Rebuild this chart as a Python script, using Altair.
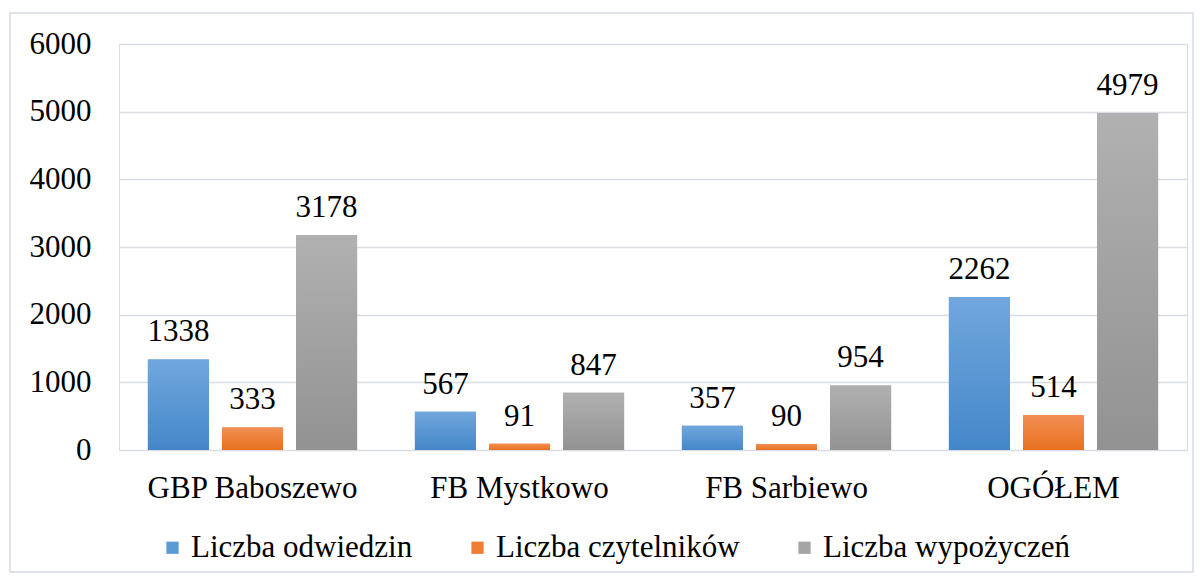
import altair as alt
import pandas as pd

categories = ["GBP Baboszewo", "FB Mystkowo", "FB Sarbiewo", "OGÓŁEM"]
series = ["Liczba odwiedzin", "Liczba czytelników", "Liczba wypożyczeń"]
odwiedzin = [1338, 567, 357, 2262]
czytelnikow = [333, 91, 90, 514]
wypozyczen = [3178, 847, 954, 4979]

flat_colors = ["#5b9bd5", "#ed7d31", "#a5a5a5"]
grad_top = ["#71a7dd", "#f28e53", "#b1b1b1"]
grad_bottom = ["#4487c9", "#e8711f", "#929292"]

rows = []
for s, vals in zip(series, [odwiedzin, czytelnikow, wypozyczen]):
    for c, v in zip(categories, vals):
        rows.append({"kategoria": c, "seria": s, "wartosc": v})
df = pd.DataFrame(rows)

FONT = "Liberation Serif, Times New Roman, serif"

x_enc = alt.X("kategoria:N", sort=categories,
              scale=alt.Scale(paddingInner=0, paddingOuter=0),
              axis=alt.Axis(title=None, labelAngle=0, labelFont=FONT, labelFontSize=31,
                            labelColor="#000000", ticks=False, domain=False,
                            labelPadding=23, labelLimit=400))
xoff_enc = alt.XOffset("seria:N", sort=series,
                       scale=alt.Scale(paddingInner=0.176, paddingOuter=0.39))
y_enc = alt.Y("wartosc:Q",
              scale=alt.Scale(domain=[0, 6000], nice=False),
              axis=alt.Axis(title=None, values=[0, 1000, 2000, 3000, 4000, 5000, 6000],
                            format="d",
                            labelFont=FONT, labelFontSize=31, labelColor="#000000",
                            ticks=False, domain=False, labelPadding=28,
                            gridColor="#d9dde3", gridWidth=1.6))

base = alt.Chart(df)

legend_bars = base.mark_bar().encode(
    x=x_enc, xOffset=xoff_enc, y=y_enc,
    color=alt.Color("seria:N", sort=series,
                    scale=alt.Scale(domain=series, range=flat_colors),
                    legend=alt.Legend(title=None, orient="none", direction="horizontal",
                                      legendX=38, legendY=488,
                                      labelFont=FONT, labelFontSize=31, labelColor="#000000",
                                      symbolType="square", symbolSize=150,
                                      symbolStrokeWidth=0, labelOffset=3,
                                      columnPadding=49, labelLimit=400)),
)

layers = [legend_bars]
for s, t, b in zip(series, grad_top, grad_bottom):
    grad = alt.Gradient(gradient="linear",
                        stops=[alt.GradientStop(offset=0, color=t),
                               alt.GradientStop(offset=1, color=b)],
                        x1=0, x2=0, y1=0, y2=1)
    layers.append(
        base.transform_filter(alt.datum.seria == s)
        .mark_bar(fill=grad)
        .encode(x=x_enc, xOffset=xoff_enc, y=y_enc)
    )

labels = base.mark_text(font=FONT, fontSize=31, color="#000000",
                        baseline="alphabetic", dy=-18).encode(
    x=x_enc, xOffset=xoff_enc, y=y_enc, text=alt.Text("wartosc:Q", format="d"))
layers.append(labels)

border = alt.Chart(pd.DataFrame({"k": [0]})).mark_rect(
    fill=None, stroke="#d6dce4", strokeWidth=1.5, clip=False
).encode(x=alt.value(-109), x2=alt.value(1074), y=alt.value(-31), y2=alt.value(528))
layers.append(border)

chart = alt.layer(*layers).properties(
    width=1068, height=406,
    padding={"left": 111, "top": 36, "right": 8, "bottom": 124},
    autosize=alt.AutoSizeParams(type="none"),
).configure_view(stroke=None).configure(background="#ffffff")

chart.save("out.html", embed_options={"renderer": "svg", "actions": False})
